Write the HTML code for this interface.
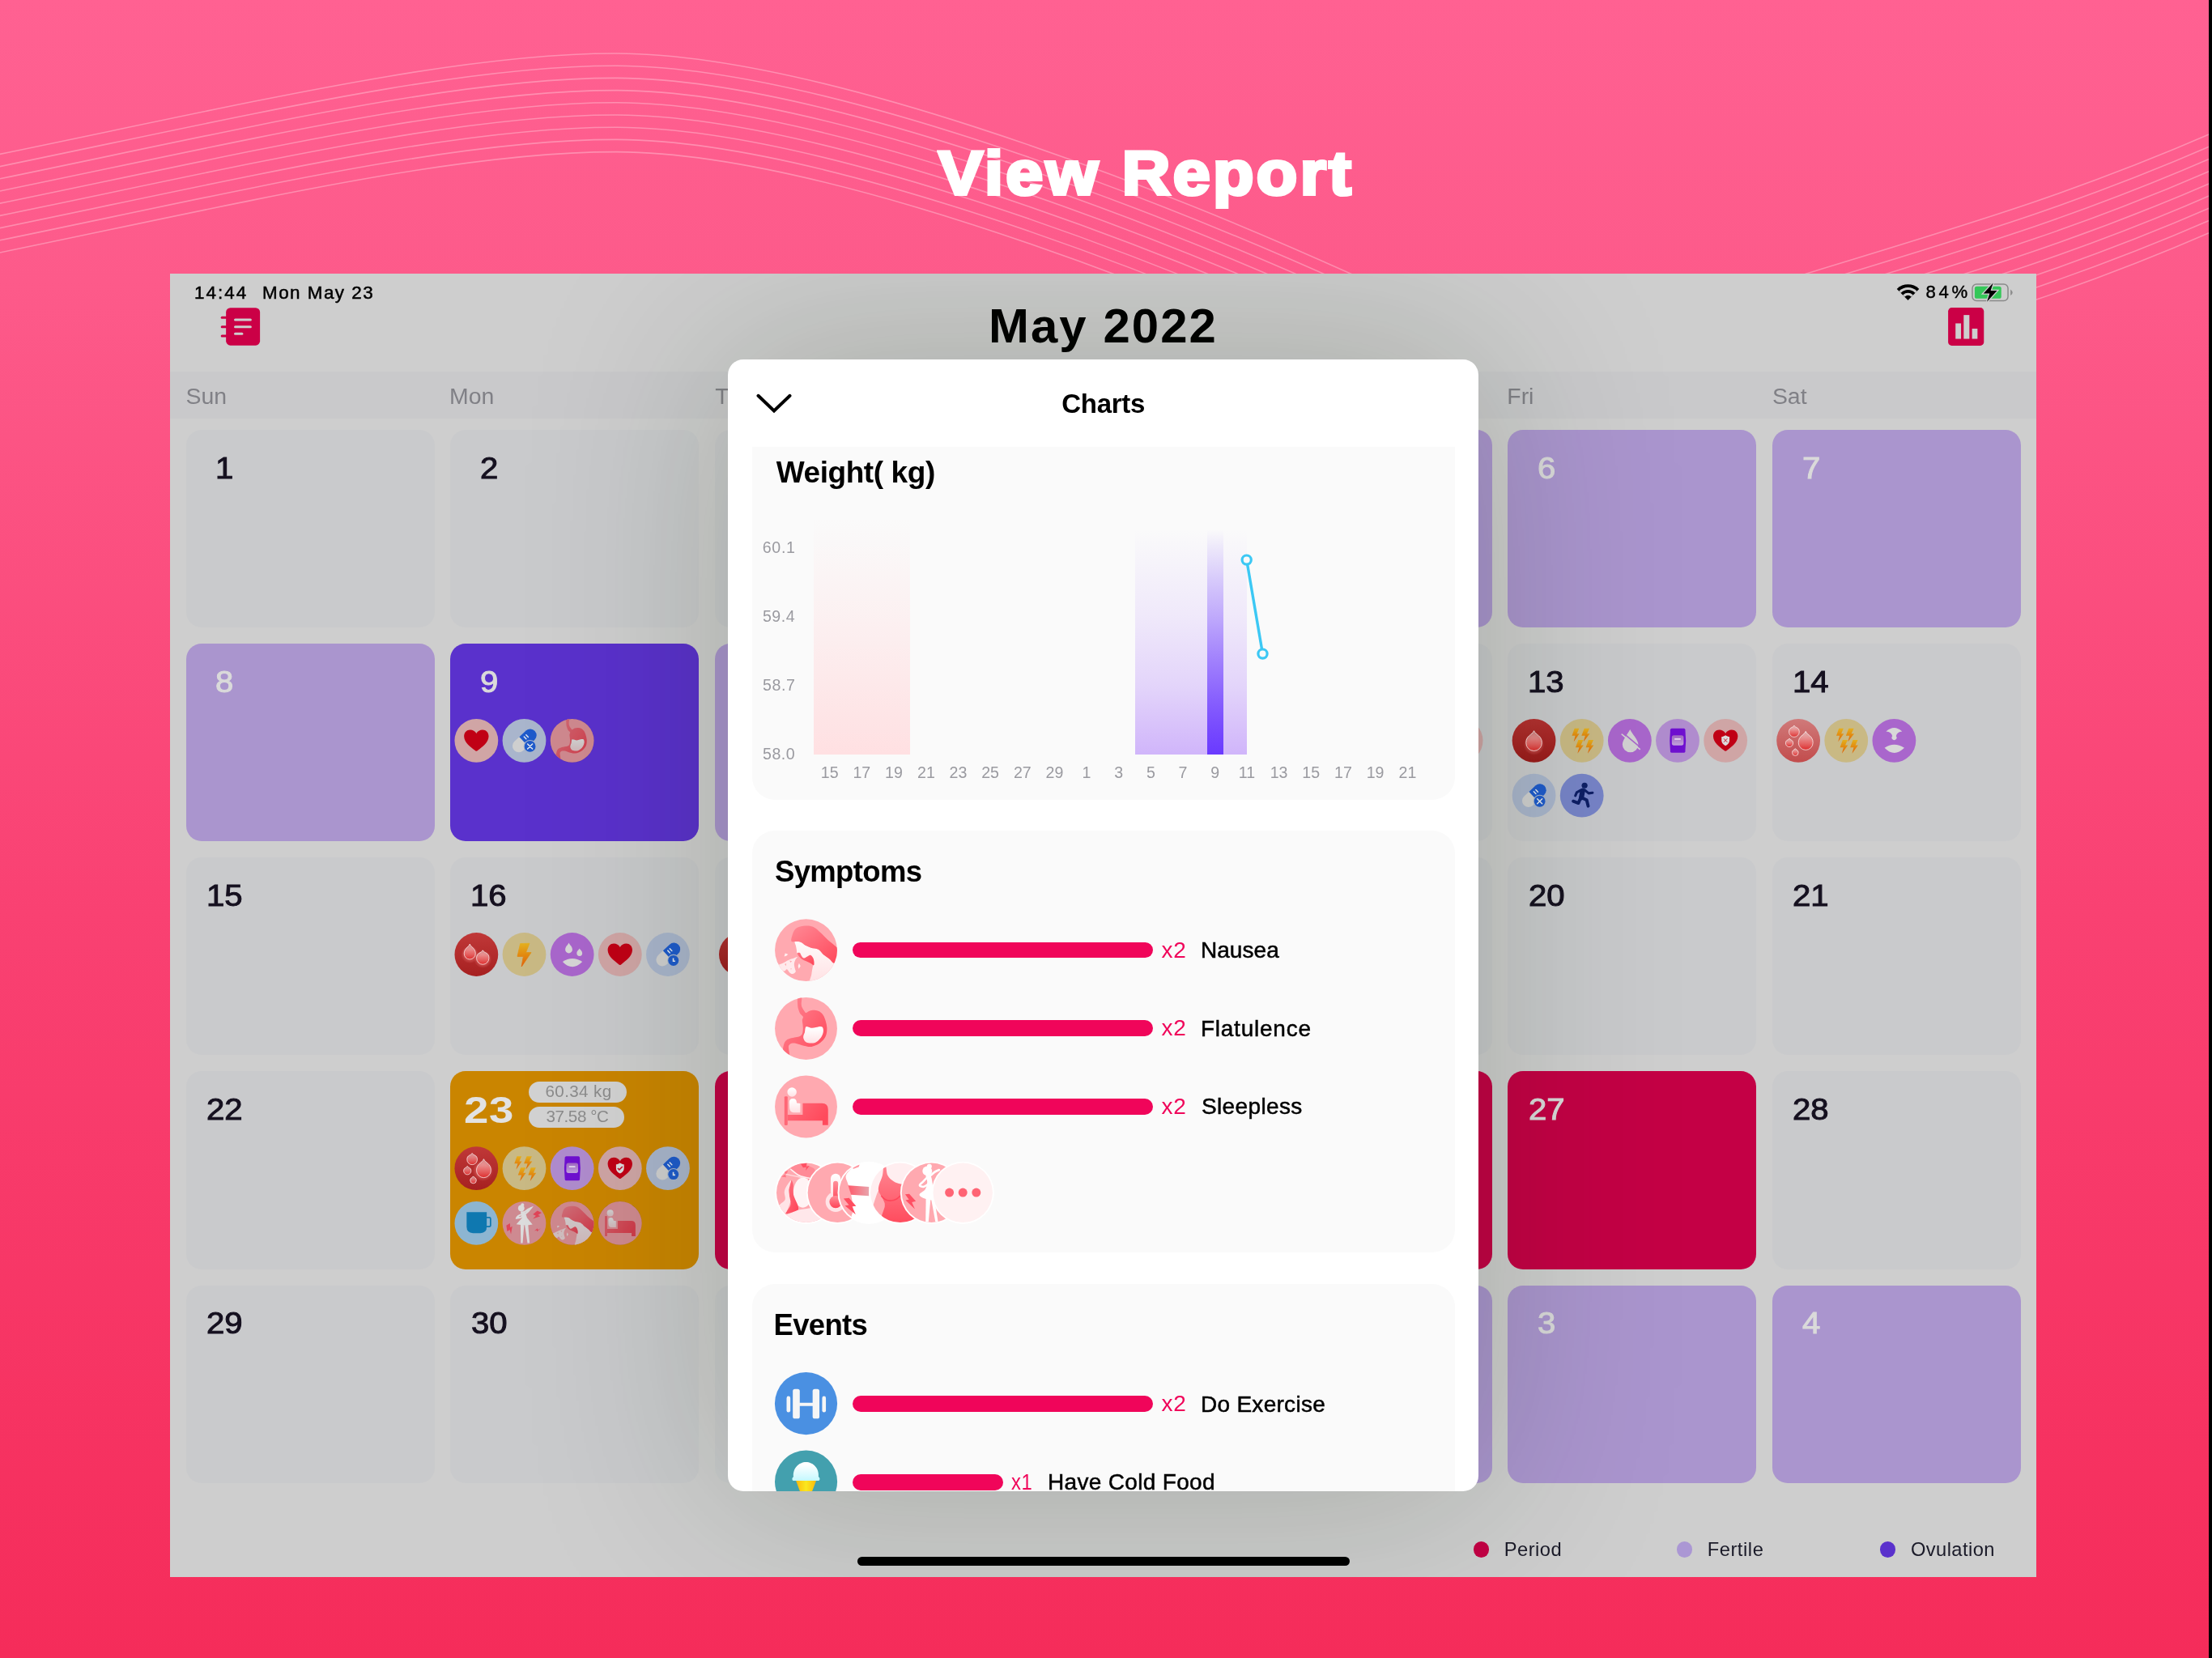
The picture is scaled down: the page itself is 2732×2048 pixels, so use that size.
<!DOCTYPE html>
<html><head><meta charset="utf-8"><title>View Report</title>
<style>
html,body{margin:0;padding:0;}
body{width:2732px;height:2048px;position:relative;overflow:hidden;
 font-family:"Liberation Sans",sans-serif;
 background:linear-gradient(180deg,#ff6192 0%,#fd5a8a 17%,#f94172 55%,#f52c5a 100%);}
.t{position:absolute;white-space:nowrap;line-height:1;}
.b{position:absolute;}
svg{position:absolute;overflow:visible;}
#app{position:absolute;left:210px;top:338px;width:2305px;height:1610px;background:#cecece;overflow:hidden;will-change:transform;}
body>.t{will-change:transform;}
#modal{position:absolute;left:689.2px;top:105.9px;width:926.6px;height:1398.4px;background:#fff;border-radius:19px;
 box-shadow:0 0 240px 10px rgba(14,34,8,0.205);overflow:hidden;}
.card{position:absolute;left:29.5px;width:868px;background:#fafafa;border-radius:28px;}
</style></head><body>

<svg style="left:0;top:0" width="2732" height="2048">
<path d="M-20,194.5 C300,129.0 560,66.0 760,66.0 C1000,66.0 1400,217.0 1668,338.0 C1850,420.0 2050,420.0 2231,338.0 C2420,280.0 2560,240.0 2740,161.0" fill="none" stroke="#fff" stroke-opacity="0.3" stroke-width="1.6"/>
<path d="M-20,209.7 C300,144.2 560,81.2 760,81.2 C1000,81.2 1400,232.2 1668,353.2 C1850,435.2 2050,435.2 2231,353.2 C2420,295.2 2560,255.2 2740,176.2" fill="none" stroke="#fff" stroke-opacity="0.3" stroke-width="1.6"/>
<path d="M-20,224.9 C300,159.4 560,96.4 760,96.4 C1000,96.4 1400,247.4 1668,368.4 C1850,450.4 2050,450.4 2231,368.4 C2420,310.4 2560,270.4 2740,191.4" fill="none" stroke="#fff" stroke-opacity="0.3" stroke-width="1.6"/>
<path d="M-20,240.1 C300,174.6 560,111.6 760,111.6 C1000,111.6 1400,262.6 1668,383.6 C1850,465.6 2050,465.6 2231,383.6 C2420,325.6 2560,285.6 2740,206.6" fill="none" stroke="#fff" stroke-opacity="0.3" stroke-width="1.6"/>
<path d="M-20,255.3 C300,189.8 560,126.8 760,126.8 C1000,126.8 1400,277.8 1668,398.8 C1850,480.8 2050,480.8 2231,398.8 C2420,340.8 2560,300.8 2740,221.8" fill="none" stroke="#fff" stroke-opacity="0.3" stroke-width="1.6"/>
<path d="M-20,270.5 C300,205.0 560,142.0 760,142.0 C1000,142.0 1400,293.0 1668,414.0 C1850,496.0 2050,496.0 2231,414.0 C2420,356.0 2560,316.0 2740,237.0" fill="none" stroke="#fff" stroke-opacity="0.3" stroke-width="1.6"/>
<path d="M-20,285.7 C300,220.2 560,157.2 760,157.2 C1000,157.2 1400,308.2 1668,429.2 C1850,511.2 2050,511.2 2231,429.2 C2420,371.2 2560,331.2 2740,252.2" fill="none" stroke="#fff" stroke-opacity="0.3" stroke-width="1.6"/>
<path d="M-20,300.9 C300,235.4 560,172.4 760,172.4 C1000,172.4 1400,323.4 1668,444.4 C1850,526.4 2050,526.4 2231,444.4 C2420,386.4 2560,346.4 2740,267.4" fill="none" stroke="#fff" stroke-opacity="0.3" stroke-width="1.6"/>
<path d="M-20,316.1 C300,250.6 560,187.6 760,187.6 C1000,187.6 1400,338.6 1668,459.6 C1850,541.6 2050,541.6 2231,459.6 C2420,401.6 2560,361.6 2740,282.6" fill="none" stroke="#fff" stroke-opacity="0.3" stroke-width="1.6"/>
</svg>
<div class="b" style="left:2728.00px;top:0.00px;width:4.00px;height:2048.00px;background:#000;"></div>
<div class="t" style="left:1158.64px;top:176.73px;font-size:75.10px;color:#fff;font-weight:700;letter-spacing:3.080px;-webkit-text-stroke:4px #fff;transform:scaleX(1.1);transform-origin:0 0;paint-order:stroke fill;">View Report</div>
<div id="app">
<div class="t" style="left:30.04px;top:12.54px;font-size:22.40px;color:#000;letter-spacing:2.052px;-webkit-text-stroke:0.5px #000;">14:44</div>
<div class="t" style="left:114.01px;top:12.54px;font-size:22.40px;color:#000;letter-spacing:1.496px;-webkit-text-stroke:0.5px #000;">Mon May 23</div>
<div class="t" style="left:2168.44px;top:12.21px;font-size:22.20px;color:#000;letter-spacing:3.712px;-webkit-text-stroke:0.4px #000;">84%</div>
<svg style="left:0;top:0" width="2305" height="120">
<rect x="69.14" y="42.19" width="41.97" height="46.49" rx="5.4" fill="#cb0046"/>
<rect x="62.69" y="52.82" width="10.2" height="3" rx="1.5" fill="#cb0046"/>
<rect x="62.69" y="64.21" width="10.2" height="3" rx="1.5" fill="#cb0046"/>
<rect x="62.69" y="75.43" width="10.2" height="3" rx="1.5" fill="#cb0046"/>
<rect x="79.03" y="55.53" width="21.82" height="3.0" rx="1.5" fill="#cecece"/>
<rect x="79.03" y="64.21" width="21.82" height="3.0" rx="1.5" fill="#cecece"/>
<rect x="79.03" y="72.72" width="11.33" height="3.0" rx="1.5" fill="#cecece"/>
<rect x="2196.11" y="42.12" width="44.16" height="46.76" rx="4.4" fill="#cb0046"/>
<rect x="2205.22" y="61.44" width="6.84" height="19.10" fill="#cecece"/>
<rect x="2215.31" y="51.13" width="7.05" height="29.40" fill="#cecece"/>
<rect x="2225.62" y="67.95" width="6.73" height="12.59" fill="#cecece"/>
<g transform="translate(2146.53,32.36)"><clipPath id="wcl"><polygon points="0,0.5 -16,-15.5 -16,-24 16,-24 16,-15.5"/></clipPath><g clip-path="url(#wcl)"><circle r="19.2" fill="#000"/><circle r="15.4" fill="#cecece"/><circle r="12.3" fill="#000"/><circle r="8.5" fill="#cecece"/><circle r="5.6" fill="#000"/></g></g>
<rect x="2226.00" y="13.00" width="44.04" height="20.50" rx="5.2" fill="none" stroke="#8a8a8a" stroke-width="1.5"/>
<rect x="2228.87" y="15.65" width="32.87" height="15.19" rx="2.6" fill="#35c759"/>
<path d="M2273.14,19.45 Q2278.34,23.25 2273.14,27.05Z" fill="#8c8c8c"/>
<polygon points="2251.66,11.53 2239.72,24.55 2247.32,24.55 2244.06,34.86 2256.54,21.08 2248.62,21.08" fill="#000" stroke="#cecece" stroke-width="2.6" paint-order="stroke"/>
</svg>
<div class="t" style="left:1011.04px;top:35.49px;font-size:59.90px;color:#000;font-weight:700;letter-spacing:2.069px;">May 2022</div>
<div class="b" style="left:0.00px;top:121.00px;width:2305.00px;height:58.00px;background:#c9c9cb;"></div>
<div class="t" style="left:19.61px;top:136.66px;font-size:28.40px;color:#808086;">Sun</div>
<div class="t" style="left:345.12px;top:136.66px;font-size:28.40px;color:#808086;">Mon</div>
<div class="t" style="left:673.36px;top:136.66px;font-size:28.40px;color:#808086;">Tue</div>
<div class="t" style="left:1000.43px;top:136.66px;font-size:28.40px;color:#808086;">Wed</div>
<div class="t" style="left:1326.46px;top:136.66px;font-size:28.40px;color:#808086;">Thu</div>
<div class="t" style="left:1651.32px;top:136.66px;font-size:28.40px;color:#808086;">Fri</div>
<div class="t" style="left:1978.91px;top:136.66px;font-size:28.40px;color:#808086;">Sat</div>
<div class="b" style="left:19.50px;top:192.90px;width:307.20px;height:244.20px;background:#c9cacc;border-radius:19px;"></div>
<div class="t" style="left:55.80px;top:222.75px;font-size:36.80px;color:#15101f;-webkit-text-stroke:1.0px #15101f;transform:scaleX(1.09);transform-origin:0 0;">1</div>
<div class="b" style="left:346.05px;top:192.90px;width:307.20px;height:244.20px;background:#c9cacc;border-radius:19px;"></div>
<div class="t" style="left:382.90px;top:222.75px;font-size:36.80px;color:#15101f;-webkit-text-stroke:1.0px #15101f;transform:scaleX(1.09);transform-origin:0 0;">2</div>
<div class="b" style="left:672.60px;top:192.90px;width:307.20px;height:244.20px;background:#c9cacc;border-radius:19px;"></div>
<div class="t" style="left:709.56px;top:222.75px;font-size:36.80px;color:#15101f;-webkit-text-stroke:1.0px #15101f;transform:scaleX(1.09);transform-origin:0 0;">3</div>
<div class="b" style="left:999.15px;top:192.90px;width:307.20px;height:244.20px;background:#c9cacc;border-radius:19px;"></div>
<div class="t" style="left:1036.12px;top:222.75px;font-size:36.80px;color:#15101f;-webkit-text-stroke:1.0px #15101f;transform:scaleX(1.09);transform-origin:0 0;">4</div>
<div class="b" style="left:1325.70px;top:192.90px;width:307.20px;height:244.20px;background:#aa95ce;border-radius:19px;"></div>
<div class="t" style="left:1362.58px;top:222.75px;font-size:36.80px;color:#dadada;-webkit-text-stroke:1.0px #dadada;transform:scaleX(1.09);transform-origin:0 0;">5</div>
<div class="b" style="left:1652.25px;top:192.90px;width:307.20px;height:244.20px;background:#aa95ce;border-radius:19px;"></div>
<div class="t" style="left:1688.96px;top:222.75px;font-size:36.80px;color:#dadada;-webkit-text-stroke:1.0px #dadada;transform:scaleX(1.09);transform-origin:0 0;">6</div>
<div class="b" style="left:1978.80px;top:192.90px;width:307.20px;height:244.20px;background:#aa95ce;border-radius:19px;"></div>
<div class="t" style="left:2015.63px;top:222.75px;font-size:36.80px;color:#dadada;-webkit-text-stroke:1.0px #dadada;transform:scaleX(1.09);transform-origin:0 0;">7</div>
<div class="b" style="left:19.50px;top:457.05px;width:307.20px;height:244.20px;background:#aa95ce;border-radius:19px;"></div>
<div class="t" style="left:56.35px;top:486.90px;font-size:36.80px;color:#dadada;-webkit-text-stroke:1.0px #dadada;transform:scaleX(1.09);transform-origin:0 0;">8</div>
<div class="b" style="left:346.05px;top:457.05px;width:307.20px;height:244.20px;background:#5a31cc;border-radius:19px;"></div>
<div class="t" style="left:382.91px;top:486.90px;font-size:36.80px;color:#dadada;-webkit-text-stroke:1.0px #dadada;transform:scaleX(1.09);transform-origin:0 0;">9</div>
<div class="b" style="left:672.60px;top:457.05px;width:307.20px;height:244.20px;background:#aa95ce;border-radius:19px;"></div>
<div class="t" style="left:697.55px;top:486.90px;font-size:36.80px;color:#dadada;-webkit-text-stroke:1.0px #dadada;transform:scaleX(1.09);transform-origin:0 0;">10</div>
<div class="b" style="left:999.15px;top:457.05px;width:307.20px;height:244.20px;background:#aa95ce;border-radius:19px;"></div>
<div class="t" style="left:1025.78px;top:486.90px;font-size:36.80px;color:#dadada;-webkit-text-stroke:1.0px #dadada;transform:scaleX(1.09);transform-origin:0 0;">11</div>
<div class="b" style="left:1325.70px;top:457.05px;width:307.20px;height:244.20px;background:#c9cacc;border-radius:19px;"></div>
<div class="t" style="left:1350.87px;top:486.90px;font-size:36.80px;color:#15101f;-webkit-text-stroke:1.0px #15101f;transform:scaleX(1.09);transform-origin:0 0;">12</div>
<div class="b" style="left:1652.25px;top:457.05px;width:307.20px;height:244.20px;background:#c9cacc;border-radius:19px;"></div>
<div class="t" style="left:1677.30px;top:486.90px;font-size:36.80px;color:#15101f;-webkit-text-stroke:1.0px #15101f;transform:scaleX(1.09);transform-origin:0 0;">13</div>
<div class="b" style="left:1978.80px;top:457.05px;width:307.20px;height:244.20px;background:#c9cacc;border-radius:19px;"></div>
<div class="t" style="left:2003.55px;top:486.90px;font-size:36.80px;color:#15101f;-webkit-text-stroke:1.0px #15101f;transform:scaleX(1.09);transform-origin:0 0;">14</div>
<div class="b" style="left:19.50px;top:721.20px;width:307.20px;height:244.20px;background:#c9cacc;border-radius:19px;"></div>
<div class="t" style="left:44.51px;top:751.05px;font-size:36.80px;color:#15101f;-webkit-text-stroke:1.0px #15101f;transform:scaleX(1.09);transform-origin:0 0;">15</div>
<div class="b" style="left:346.05px;top:721.20px;width:307.20px;height:244.20px;background:#c9cacc;border-radius:19px;"></div>
<div class="t" style="left:371.10px;top:751.05px;font-size:36.80px;color:#15101f;-webkit-text-stroke:1.0px #15101f;transform:scaleX(1.09);transform-origin:0 0;">16</div>
<div class="b" style="left:672.60px;top:721.20px;width:307.20px;height:244.20px;background:#c9cacc;border-radius:19px;"></div>
<div class="t" style="left:697.77px;top:751.05px;font-size:36.80px;color:#15101f;-webkit-text-stroke:1.0px #15101f;transform:scaleX(1.09);transform-origin:0 0;">17</div>
<div class="b" style="left:999.15px;top:721.20px;width:307.20px;height:244.20px;background:#c9cacc;border-radius:19px;"></div>
<div class="t" style="left:1024.19px;top:751.05px;font-size:36.80px;color:#15101f;-webkit-text-stroke:1.0px #15101f;transform:scaleX(1.09);transform-origin:0 0;">18</div>
<div class="b" style="left:1325.70px;top:721.20px;width:307.20px;height:244.20px;background:#c9cacc;border-radius:19px;"></div>
<div class="t" style="left:1350.81px;top:751.05px;font-size:36.80px;color:#15101f;-webkit-text-stroke:1.0px #15101f;transform:scaleX(1.09);transform-origin:0 0;">19</div>
<div class="b" style="left:1652.25px;top:721.20px;width:307.20px;height:244.20px;background:#c9cacc;border-radius:19px;"></div>
<div class="t" style="left:1677.72px;top:751.05px;font-size:36.80px;color:#15101f;-webkit-text-stroke:1.0px #15101f;transform:scaleX(1.09);transform-origin:0 0;">20</div>
<div class="b" style="left:1978.80px;top:721.20px;width:307.20px;height:244.20px;background:#c9cacc;border-radius:19px;"></div>
<div class="t" style="left:2004.46px;top:751.05px;font-size:36.80px;color:#15101f;-webkit-text-stroke:1.0px #15101f;transform:scaleX(1.09);transform-origin:0 0;">21</div>
<div class="b" style="left:19.50px;top:985.35px;width:307.20px;height:244.20px;background:#c9cacc;border-radius:19px;"></div>
<div class="t" style="left:45.19px;top:1015.20px;font-size:36.80px;color:#15101f;-webkit-text-stroke:1.0px #15101f;transform:scaleX(1.09);transform-origin:0 0;">22</div>
<div class="b" style="left:346.05px;top:985.35px;width:307.20px;height:244.20px;background:#ca8500;border-radius:19px;"></div>
<div class="t" style="left:363.01px;top:1010.10px;font-size:46.60px;color:#e2e2e2;font-weight:700;letter-spacing:0.525px;transform:scaleX(1.17);transform-origin:0 0;">23</div>
<div class="b" style="left:672.60px;top:985.35px;width:307.20px;height:244.20px;background:#c40045;border-radius:19px;"></div>
<div class="t" style="left:697.87px;top:1015.20px;font-size:36.80px;color:#dadada;-webkit-text-stroke:1.0px #dadada;transform:scaleX(1.09);transform-origin:0 0;">24</div>
<div class="b" style="left:999.15px;top:985.35px;width:307.20px;height:244.20px;background:#c40045;border-radius:19px;"></div>
<div class="t" style="left:1024.67px;top:1015.20px;font-size:36.80px;color:#dadada;-webkit-text-stroke:1.0px #dadada;transform:scaleX(1.09);transform-origin:0 0;">25</div>
<div class="b" style="left:1325.70px;top:985.35px;width:307.20px;height:244.20px;background:#c40045;border-radius:19px;"></div>
<div class="t" style="left:1351.26px;top:1015.20px;font-size:36.80px;color:#dadada;-webkit-text-stroke:1.0px #dadada;transform:scaleX(1.09);transform-origin:0 0;">26</div>
<div class="b" style="left:1652.25px;top:985.35px;width:307.20px;height:244.20px;background:#c40045;border-radius:19px;"></div>
<div class="t" style="left:1677.94px;top:1015.20px;font-size:36.80px;color:#dadada;-webkit-text-stroke:1.0px #dadada;transform:scaleX(1.09);transform-origin:0 0;">27</div>
<div class="b" style="left:1978.80px;top:985.35px;width:307.20px;height:244.20px;background:#c9cacc;border-radius:19px;"></div>
<div class="t" style="left:2004.35px;top:1015.20px;font-size:36.80px;color:#15101f;-webkit-text-stroke:1.0px #15101f;transform:scaleX(1.09);transform-origin:0 0;">28</div>
<div class="b" style="left:19.50px;top:1249.50px;width:307.20px;height:244.20px;background:#c9cacc;border-radius:19px;"></div>
<div class="t" style="left:45.13px;top:1279.35px;font-size:36.80px;color:#15101f;-webkit-text-stroke:1.0px #15101f;transform:scaleX(1.09);transform-origin:0 0;">29</div>
<div class="b" style="left:346.05px;top:1249.50px;width:307.20px;height:244.20px;background:#c9cacc;border-radius:19px;"></div>
<div class="t" style="left:371.76px;top:1279.35px;font-size:36.80px;color:#15101f;-webkit-text-stroke:1.0px #15101f;transform:scaleX(1.09);transform-origin:0 0;">30</div>
<div class="b" style="left:672.60px;top:1249.50px;width:307.20px;height:244.20px;background:#c9cacc;border-radius:19px;"></div>
<div class="t" style="left:698.51px;top:1279.35px;font-size:36.80px;color:#15101f;-webkit-text-stroke:1.0px #15101f;transform:scaleX(1.09);transform-origin:0 0;">31</div>
<div class="b" style="left:999.15px;top:1249.50px;width:307.20px;height:244.20px;background:#aa95ce;border-radius:19px;"></div>
<div class="t" style="left:1035.45px;top:1279.35px;font-size:36.80px;color:#dadada;-webkit-text-stroke:1.0px #dadada;transform:scaleX(1.09);transform-origin:0 0;">1</div>
<div class="b" style="left:1325.70px;top:1249.50px;width:307.20px;height:244.20px;background:#aa95ce;border-radius:19px;"></div>
<div class="t" style="left:1362.55px;top:1279.35px;font-size:36.80px;color:#dadada;-webkit-text-stroke:1.0px #dadada;transform:scaleX(1.09);transform-origin:0 0;">2</div>
<div class="b" style="left:1652.25px;top:1249.50px;width:307.20px;height:244.20px;background:#aa95ce;border-radius:19px;"></div>
<div class="t" style="left:1689.21px;top:1279.35px;font-size:36.80px;color:#dadada;-webkit-text-stroke:1.0px #dadada;transform:scaleX(1.09);transform-origin:0 0;">3</div>
<div class="b" style="left:1978.80px;top:1249.50px;width:307.20px;height:244.20px;background:#aa95ce;border-radius:19px;"></div>
<div class="t" style="left:2015.77px;top:1279.35px;font-size:36.80px;color:#dadada;-webkit-text-stroke:1.0px #dadada;transform:scaleX(1.09);transform-origin:0 0;">4</div>
<div class="b" style="left:442.60px;top:997.50px;width:121.40px;height:26.00px;background:#d2d2d2;border-radius:13px;"></div>
<div class="b" style="left:442.60px;top:1028.60px;width:118.80px;height:26.00px;background:#d2d2d2;border-radius:13px;"></div>
<div class="t" style="left:463.45px;top:1000.36px;font-size:20.60px;color:#8c8c8c;letter-spacing:0.392px;">60.34 kg</div>
<div class="t" style="left:464.42px;top:1031.36px;font-size:20.60px;color:#8c8c8c;letter-spacing:-0.403px;">37.58 °C</div>
<svg width="0" height="0" style="left:0;top:0"><defs>
<linearGradient id="gdrop" x1="0" y1="0" x2="0" y2="1"><stop offset="0" stop-color="#fff" stop-opacity="0.42"/><stop offset="0.5" stop-color="#f08080" stop-opacity="0.75"/><stop offset="1" stop-color="#dc2a2a"/></linearGradient>
<linearGradient id="gbolt" x1="0" y1="0" x2="0" y2="1"><stop offset="0" stop-color="#e4b01e"/><stop offset="0.5" stop-color="#e28a10"/><stop offset="1" stop-color="#e06008"/></linearGradient>
<linearGradient id="gred1" x1="0" y1="0" x2="0" y2="1"><stop offset="0" stop-color="#b43030"/><stop offset="1" stop-color="#9a1a1a"/></linearGradient>
<linearGradient id="gred2" x1="0" y1="0" x2="0" y2="1"><stop offset="0" stop-color="#c03838"/><stop offset="1" stop-color="#a62020"/></linearGradient>
<linearGradient id="gred3" x1="0" y1="0" x2="0" y2="1"><stop offset="0" stop-color="#d07a7a"/><stop offset="1" stop-color="#c24c4c"/></linearGradient>
<radialGradient id="gglow"><stop offset="0.55" stop-color="#ff9090" stop-opacity="0.38"/><stop offset="1" stop-color="#ff9090" stop-opacity="0"/></radialGradient>
<linearGradient id="gpad" x1="0" y1="0" x2="0" y2="1"><stop offset="0" stop-color="#a068c2"/><stop offset="1" stop-color="#c2a4dc"/></linearGradient>
<linearGradient id="gpk1" x1="0" y1="0" x2="1" y2="1"><stop offset="0" stop-color="#ff8a96"/><stop offset="1" stop-color="#ff4659"/></linearGradient>
<linearGradient id="gpk2" x1="0" y1="0" x2="1" y2="1"><stop offset="0" stop-color="#ff7583"/><stop offset="1" stop-color="#ff4357"/></linearGradient>
<linearGradient id="gskin" x1="0" y1="0" x2="0" y2="1"><stop offset="0" stop-color="#fffafa"/><stop offset="1" stop-color="#ffdfe2"/></linearGradient>
<linearGradient id="gwh" x1="0" y1="0" x2="0" y2="1"><stop offset="0.1" stop-color="#ffffff"/><stop offset="1" stop-color="#ffe1e4"/></linearGradient>
<linearGradient id="gbed" x1="0" y1="0" x2="1" y2="0.4"><stop offset="0" stop-color="#ff6b7a"/><stop offset="1" stop-color="#ff4a5c"/></linearGradient>
<linearGradient id="gcone" x1="0" y1="0" x2="1" y2="0"><stop offset="0" stop-color="#fdb80e"/><stop offset="0.5" stop-color="#fae81e"/><stop offset="1" stop-color="#fdb80e"/></linearGradient>
<linearGradient id="gice" x1="0" y1="0" x2="0" y2="1"><stop offset="0.15" stop-color="#ffffff"/><stop offset="1" stop-color="#c4f8ff"/></linearGradient>
<linearGradient id="gband" x1="0" y1="0" x2="1" y2="0"><stop offset="0" stop-color="#ff5a6b"/><stop offset="1" stop-color="#e8a4ac"/></linearGradient>
<linearGradient id="gtank" x1="0" y1="0" x2="0" y2="1"><stop offset="0" stop-color="#ff8792"/><stop offset="1" stop-color="#ff4558"/></linearGradient>
<linearGradient id="gthermo" x1="0" y1="0" x2="0" y2="1"><stop offset="0" stop-color="#ffffff"/><stop offset="0.8" stop-color="#ffe4e7"/></linearGradient>
<linearGradient id="gtherm" x1="0" y1="0" x2="0" y2="1"><stop offset="0" stop-color="#ff8f9a"/><stop offset="1" stop-color="#ff4357"/></linearGradient>
</defs></svg>

<svg style="left:0;top:0" width="2305" height="1610">
<g transform="translate(378.35,576.85)"><circle r="26.9" fill="#d0a5a5"/><path d="M0,12.9 Q-0.9,12.9 -2.2,11.7 C-6.5,8.3 -15.2,2.4 -15.2,-5.4 C-15.2,-10.2 -11.9,-13.4 -7.7,-13.4 C-4.4,-13.4 -1.5,-11.7 0,-8.9 C1.5,-11.7 4.4,-13.4 7.7,-13.4 C11.9,-13.4 15.2,-10.2 15.2,-5.4 C15.2,2.4 6.5,8.3 2.2,11.7 Q0.9,12.9 0,12.9Z" fill="#c00015"/></g>
<g transform="translate(437.50,576.85)"><circle r="26.9" fill="#a9b5cc"/><g transform="translate(0.3,0.0) rotate(-43)"><path d="M0,-7.8 L-9.70,-7.8 A7.8,7.8 0 0 0 -9.70,7.8 L0,7.8Z" fill="#cfcfcf"/><path d="M-1.5,-7.8 L9.70,-7.8 A7.8,7.8 0 0 1 9.70,7.8 L-1.5,7.8Z" fill="#1e5acb"/><rect x="2.2" y="-4.6" width="1.5" height="5.2" rx="0.7" fill="#dfe6f2"/><rect x="5.6" y="-4.6" width="1.5" height="5.2" rx="0.7" fill="#dfe6f2"/></g><circle cx="7.1" cy="7.1" r="8" fill="#a9b5cc"/><circle cx="7.1" cy="7.1" r="6.9" fill="#1e5acb"/><path d="M4.1,4.1 L10.1,10.1 M10.1,4.1 L4.1,10.1" stroke="#e4e8f0" stroke-width="1.5" stroke-linecap="round" fill="none"/></g>
<g transform="translate(496.65,576.85)"><g transform="scale(0.6996) translate(-45.7,-48.4)"><clipPath id="cps1"><circle cx="45.7" cy="48.4" r="38.45"/></clipPath><circle cx="45.7" cy="48.4" r="38.45" fill="#ffa9b0"/><g clip-path="url(#cps1)"><path d="M35.59,7.24 C36.46,5.43 39.81,5.43 40.53,7.24 C41.25,9.05 39.80,15.43 39.93,18.09 C40.06,20.76 40.58,21.59 41.31,23.22 C42.05,24.85 43.58,26.91 44.33,27.86 C45.08,28.82 44.88,29.17 45.84,28.95 C46.79,28.73 48.35,27.09 50.06,26.54 C51.77,25.99 54.08,25.51 56.09,25.63 C58.10,25.75 60.31,26.21 62.12,27.26 C63.93,28.32 65.64,29.98 66.95,31.97 C68.25,33.96 69.20,36.69 69.96,39.20 C70.73,41.72 71.37,44.43 71.53,47.04 C71.69,49.66 71.49,52.57 70.93,54.89 C70.37,57.20 69.47,59.06 68.15,60.92 C66.84,62.78 64.89,64.64 63.03,66.04 C61.17,67.45 59.01,68.55 57.00,69.36 C54.99,70.17 53.13,70.83 50.97,70.93 C48.80,71.03 46.19,70.43 44.03,69.96 C41.87,69.50 39.86,68.71 38.00,68.15 C36.14,67.60 34.53,66.90 32.87,66.65 C31.21,66.40 29.35,66.32 28.05,66.65 C26.74,66.97 25.68,67.72 25.03,68.58 C24.38,69.43 24.10,69.13 24.13,71.77 C24.16,74.42 26.32,83.33 25.21,84.44 C24.11,85.54 18.65,81.12 17.49,78.41 C16.33,75.69 17.67,70.72 18.28,68.15 C18.88,65.59 19.83,64.28 21.11,63.03 C22.39,61.77 23.97,61.27 25.93,60.62 C27.90,59.96 30.86,59.56 32.87,59.11 C34.88,58.66 36.64,58.60 38.00,57.90 C39.35,57.20 40.35,56.39 41.01,54.89 C41.68,53.38 41.88,50.81 41.98,48.85 C42.08,46.89 41.78,44.93 41.62,43.12 C41.46,41.31 40.94,39.56 41.01,38.00 C41.08,36.44 42.44,35.08 42.04,33.78 C41.64,32.47 39.58,31.77 38.60,30.16 C37.63,28.55 36.74,26.14 36.19,24.13 C35.64,22.11 35.38,20.91 35.28,18.09 C35.18,15.28 34.71,9.05 35.59,7.24Z" fill="url(#gpk1)"/><path d="M45.72,46.08 C46.44,45.68 47.75,46.28 48.97,46.56 C50.20,46.84 51.59,47.71 53.08,47.77 C54.56,47.83 56.24,47.25 57.90,46.92 C59.56,46.60 61.64,45.84 63.03,45.84 C64.41,45.84 65.55,45.92 66.22,46.92 C66.90,47.93 67.25,50.04 67.07,51.87 C66.89,53.70 66.16,56.04 65.14,57.90 C64.11,59.76 62.42,61.67 60.92,63.03 C59.41,64.38 57.90,65.49 56.09,66.04 C54.28,66.60 51.92,66.60 50.06,66.34 C48.20,66.09 46.19,65.54 44.93,64.54 C43.68,63.53 42.89,61.62 42.52,60.31 C42.15,59.01 42.43,57.90 42.70,56.69 C42.97,55.49 43.83,54.36 44.15,53.08 C44.47,51.79 44.37,50.14 44.63,48.97 C44.89,47.81 44.99,46.48 45.72,46.08Z" fill="url(#gwh)"/></g></g><circle r="27.099999999999998" fill="#000" fill-opacity="0.19"/></g>
<g transform="translate(1684.55,576.85)"><circle r="26.9" fill="url(#gred1)"/><circle cx="0" cy="5" r="13" fill="url(#gglow)"/><path d="M0.00,-12.20 C2.35,-6.74 9.80,-6.51 9.80,2.80 A9.80,9.80 0 0 1 -9.80,2.80 C-9.80,-6.51 -2.35,-6.74 0.00,-12.20Z" fill="url(#gdrop)" stroke="rgba(255,255,255,0.75)" stroke-width="1.0"/></g>
<g transform="translate(1743.70,576.85)"><circle r="26.9" fill="#c9b984"/><polygon points="-9.07,-15.00 -3.37,-15.00 -6.13,-8.64 -3.00,-8.64 -9.99,1.40 -8.15,-5.98 -12.20,-5.98" fill="url(#gbolt)"/><polygon points="3.07,-15.00 9.39,-15.00 6.33,-8.64 9.80,-8.64 2.05,1.40 4.09,-5.98 -0.40,-5.98" fill="url(#gbolt)"/><polygon points="-4.37,-0.90 1.71,-0.90 -1.23,5.61 2.10,5.61 -5.35,15.90 -3.39,8.34 -7.70,8.34" fill="url(#gbolt)"/><polygon points="8.23,-0.90 14.31,-0.90 11.37,5.61 14.70,5.61 7.25,15.90 9.21,8.34 4.90,8.34" fill="url(#gbolt)"/></g>
<g transform="translate(1802.85,576.85)"><circle r="26.9" fill="#a966cc"/><path d="M0.4,-13.8 C3,-8 10.6,-1 10.6,5 A9.8,9.3 0 0 1 -9,5 C-9,-1 -2.5,-8 0.4,-13.8Z" fill="#d2d2d2"/><path d="M-8.2,-9.4 L13.6,8.8" stroke="#a966cc" stroke-width="1.6" fill="none"/><path d="M-9.6,-7.8 L12.4,10.6" stroke="#d2d2d2" stroke-width="1.7" stroke-linecap="round" fill="none"/></g>
<g transform="translate(1862.00,576.85)"><circle r="26.9" fill="#b08cce"/><path d="M-7.3,-15 L7.7,-15 Q9.2,-15 9.4,-13.5 Q10.9,0 9.4,13.5 Q9.2,15 7.7,15 L-7.3,15 Q-8.8,15 -9,13.5 Q-10.5,0 -9,-13.5 Q-8.8,-15 -7.3,-15Z" fill="#6f10d0"/><rect x="-7.2" y="-6.6" width="14.6" height="12.4" rx="2.6" fill="url(#gpad)"/><rect x="-3.9" y="-2.9" width="7.8" height="1.7" rx="0.5" fill="#e6daf0"/></g>
<g transform="translate(1921.15,576.85)"><circle r="26.9" fill="#cfa5a5"/><path d="M0,12.9 Q-0.9,12.9 -2.2,11.7 C-6.5,8.3 -15.2,2.4 -15.2,-5.4 C-15.2,-10.2 -11.9,-13.4 -7.7,-13.4 C-4.4,-13.4 -1.5,-11.7 0,-8.9 C1.5,-11.7 4.4,-13.4 7.7,-13.4 C11.9,-13.4 15.2,-10.2 15.2,-5.4 C15.2,2.4 6.5,8.3 2.2,11.7 Q0.9,12.9 0,12.9Z" fill="#c00015"/><path d="M0,-6.6 C1.8,-5.4 3.4,-4.9 4.9,-4.8 L4.9,0 C4.9,3 2.8,5 0,6.3 C-2.8,5 -4.9,3 -4.9,0 L-4.9,-4.8 C-3.4,-4.9 -1.8,-5.4 0,-6.6Z" fill="#dcdcdc"/><path d="M-2.2,-2.6 L2.2,2 M2.2,-2.6 L-2.2,2" stroke="#c8102a" stroke-width="0.9" fill="none"/></g>
<g transform="translate(1684.55,644.65)"><circle r="26.9" fill="#a9b5cc"/><g transform="translate(0.3,0.0) rotate(-43)"><path d="M0,-7.8 L-9.70,-7.8 A7.8,7.8 0 0 0 -9.70,7.8 L0,7.8Z" fill="#cfcfcf"/><path d="M-1.5,-7.8 L9.70,-7.8 A7.8,7.8 0 0 1 9.70,7.8 L-1.5,7.8Z" fill="#1e5acb"/><rect x="2.2" y="-4.6" width="1.5" height="5.2" rx="0.7" fill="#dfe6f2"/><rect x="5.6" y="-4.6" width="1.5" height="5.2" rx="0.7" fill="#dfe6f2"/></g><circle cx="7.1" cy="7.1" r="8" fill="#a9b5cc"/><circle cx="7.1" cy="7.1" r="6.9" fill="#1e5acb"/><path d="M4.1,4.1 L10.1,10.1 M10.1,4.1 L4.1,10.1" stroke="#e4e8f0" stroke-width="1.5" stroke-linecap="round" fill="none"/></g>
<g transform="translate(1743.70,644.65)"><circle r="26.9" fill="#7784c8"/><circle cx="3.4" cy="-12.4" r="3.6" fill="#0e1e66"/><path d="M1,-6 L-0.6,2.6" stroke="#0e1e66" stroke-width="6.2" stroke-linecap="round" fill="none"/><path d="M-1.5,-6.6 L-6.3,-3.8 L-8,0.2" stroke="#0e1e66" stroke-width="3.1" stroke-linecap="round" stroke-linejoin="round" fill="none"/><path d="M3.6,-6.8 L8.4,-2.8 L13.2,-3.4" stroke="#0e1e66" stroke-width="3.1" stroke-linecap="round" stroke-linejoin="round" fill="none"/><path d="M0.8,3 L6,5.6 L7.8,13" stroke="#0e1e66" stroke-width="3.9" stroke-linecap="round" stroke-linejoin="round" fill="none"/><path d="M-1.6,3 L-4.2,9.4 L-10.6,7" stroke="#0e1e66" stroke-width="3.9" stroke-linecap="round" stroke-linejoin="round" fill="none"/></g>
<g transform="translate(2011.10,576.85)"><circle r="26.9" fill="url(#gred3)"/><path d="M-5.20,-18.70 C-3.68,-15.58 1.15,-16.88 1.15,-10.85 A6.35,6.35 0 0 1 -11.55,-10.85 C-11.55,-16.88 -6.72,-15.58 -5.20,-18.70Z" fill="url(#gdrop)" stroke="rgba(255,255,255,0.75)" stroke-width="0.9"/><path d="M9.10,-11.50 C11.25,-6.44 18.05,-5.95 18.05,2.55 A8.95,8.95 0 0 1 0.15,2.55 C0.15,-5.95 6.95,-6.44 9.10,-11.50Z" fill="url(#gdrop)" stroke="rgba(255,255,255,0.75)" stroke-width="0.9"/><path d="M-11.10,-2.75 C-10.00,-0.44 -6.50,-1.22 -6.50,3.15 A4.60,4.60 0 0 1 -15.70,3.15 C-15.70,-1.22 -12.20,-0.44 -11.10,-2.75Z" fill="url(#gdrop)" stroke="rgba(255,255,255,0.75)" stroke-width="0.9"/><path d="M-3.80,9.75 C-2.89,11.71 0.00,11.24 0.00,14.85 A3.80,3.80 0 0 1 -7.60,14.85 C-7.60,11.24 -4.71,11.71 -3.80,9.75Z" fill="url(#gdrop)" stroke="rgba(255,255,255,0.75)" stroke-width="0.9"/></g>
<g transform="translate(2070.25,576.85)"><circle r="26.9" fill="#c9b984"/><polygon points="-9.07,-15.00 -3.37,-15.00 -6.13,-8.64 -3.00,-8.64 -9.99,1.40 -8.15,-5.98 -12.20,-5.98" fill="url(#gbolt)"/><polygon points="3.07,-15.00 9.39,-15.00 6.33,-8.64 9.80,-8.64 2.05,1.40 4.09,-5.98 -0.40,-5.98" fill="url(#gbolt)"/><polygon points="-4.37,-0.90 1.71,-0.90 -1.23,5.61 2.10,5.61 -5.35,15.90 -3.39,8.34 -7.70,8.34" fill="url(#gbolt)"/><polygon points="8.23,-0.90 14.31,-0.90 11.37,5.61 14.70,5.61 7.25,15.90 9.21,8.34 4.90,8.34" fill="url(#gbolt)"/></g>
<g transform="translate(2129.40,576.85)"><circle r="26.9" fill="#a966cc"/><path d="M-10,-11.4 Q0,-20.4 9.9,-11.4 Q3.4,-11 2.4,-5.6 A3,3 0 1 1 -2.2,-5.6 Q-3.2,-11 -10,-11.4Z" fill="#d8d8d8"/><path d="M-11.8,9 Q0,1 12.6,9 Q6,15.2 0.4,15.2 Q-6,15.2 -11.8,9Z" fill="#d8d8d8"/></g>
<g transform="translate(378.35,841.00)"><circle r="26.9" fill="url(#gred2)"/><circle cx="-8" cy="0" r="11" fill="url(#gglow)"/><circle cx="8" cy="6" r="11" fill="url(#gglow)"/><path d="M-8.10,-12.95 C-6.42,-8.79 -1.10,-7.70 -1.10,-1.05 A7.00,7.00 0 0 1 -15.10,-1.05 C-15.10,-7.70 -9.78,-8.79 -8.10,-12.95Z" fill="url(#gdrop)" stroke="rgba(255,255,255,0.75)" stroke-width="0.9"/><path d="M7.90,-5.25 C9.75,-1.40 15.60,-2.76 15.60,4.55 A7.70,7.70 0 0 1 0.20,4.55 C0.20,-2.76 6.05,-1.40 7.90,-5.25Z" fill="url(#gdrop)" stroke="rgba(255,255,255,0.75)" stroke-width="0.9"/></g>
<g transform="translate(437.50,841.00)"><circle r="26.9" fill="#c9b984"/><polygon points="-4.90,-13.40 6.50,-13.80 2.00,-2.40 8.50,-2.40 -3.30,15.00 -1.20,2.40 -8.50,2.40" fill="url(#gbolt)" stroke="url(#gbolt)" stroke-width="0.8" stroke-linejoin="round"/></g>
<g transform="translate(496.65,841.00)"><circle r="26.9" fill="#a966cc"/><path d="M-4.10,-14.60 C-3.04,-11.74 0.30,-10.18 0.30,-6.00 A4.40,4.40 0 0 1 -8.50,-6.00 C-8.50,-10.18 -5.16,-11.74 -4.10,-14.60Z" fill="#d6d6d6"/><path d="M9.10,-7.40 C9.92,-5.33 12.50,-4.63 12.50,-1.40 A3.40,3.40 0 0 1 5.70,-1.40 C5.70,-4.63 8.28,-5.33 9.10,-7.40Z" fill="#d6d6d6"/><path d="M-11.8,9 Q0,1 12.6,9 Q6,15.2 0.4,15.2 Q-6,15.2 -11.8,9Z" fill="#d6d6d6"/></g>
<g transform="translate(555.80,841.00)"><circle r="26.9" fill="#d0a5a5"/><path d="M0,12.9 Q-0.9,12.9 -2.2,11.7 C-6.5,8.3 -15.2,2.4 -15.2,-5.4 C-15.2,-10.2 -11.9,-13.4 -7.7,-13.4 C-4.4,-13.4 -1.5,-11.7 0,-8.9 C1.5,-11.7 4.4,-13.4 7.7,-13.4 C11.9,-13.4 15.2,-10.2 15.2,-5.4 C15.2,2.4 6.5,8.3 2.2,11.7 Q0.9,12.9 0,12.9Z" fill="#c00015"/></g>
<g transform="translate(614.95,841.00)"><circle r="26.9" fill="#a9b5cc"/><g transform="translate(0.3,0.0) rotate(-43)"><path d="M0,-7.8 L-9.70,-7.8 A7.8,7.8 0 0 0 -9.70,7.8 L0,7.8Z" fill="#cfcfcf"/><path d="M-1.5,-7.8 L9.70,-7.8 A7.8,7.8 0 0 1 9.70,7.8 L-1.5,7.8Z" fill="#1e5acb"/><rect x="2.2" y="-4.6" width="1.5" height="5.2" rx="0.7" fill="#dfe6f2"/><rect x="5.6" y="-4.6" width="1.5" height="5.2" rx="0.7" fill="#dfe6f2"/></g><circle cx="6.8" cy="7.4" r="7.6" fill="#a9b5cc"/><circle cx="6.8" cy="7.4" r="6.5" fill="#1e5acb"/><path d="M6.6,4.6 L6.6,8.2 L9,8.2" stroke="#e4e8f0" stroke-width="1.6" fill="none"/></g>
<g transform="translate(704.90,841.00)"><circle r="26.9" fill="url(#gred1)"/><circle cx="0" cy="5" r="13" fill="url(#gglow)"/><path d="M0.00,-12.20 C2.35,-6.74 9.80,-6.51 9.80,2.80 A9.80,9.80 0 0 1 -9.80,2.80 C-9.80,-6.51 -2.35,-6.74 0.00,-12.20Z" fill="url(#gdrop)" stroke="rgba(255,255,255,0.75)" stroke-width="1.0"/></g>
<g transform="translate(1594.60,576.85)"><circle r="26.9" fill="#d0a5a5"/><path d="M0,12.9 Q-0.9,12.9 -2.2,11.7 C-6.5,8.3 -15.2,2.4 -15.2,-5.4 C-15.2,-10.2 -11.9,-13.4 -7.7,-13.4 C-4.4,-13.4 -1.5,-11.7 0,-8.9 C1.5,-11.7 4.4,-13.4 7.7,-13.4 C11.9,-13.4 15.2,-10.2 15.2,-5.4 C15.2,2.4 6.5,8.3 2.2,11.7 Q0.9,12.9 0,12.9Z" fill="#c00015"/></g>
<g transform="translate(378.35,1105.15)"><circle r="26.9" fill="url(#gred2)"/><circle cx="8" cy="3" r="13" fill="url(#gglow)"/><path d="M-5.20,-18.70 C-3.68,-15.58 1.15,-16.88 1.15,-10.85 A6.35,6.35 0 0 1 -11.55,-10.85 C-11.55,-16.88 -6.72,-15.58 -5.20,-18.70Z" fill="url(#gdrop)" stroke="rgba(255,255,255,0.75)" stroke-width="0.9"/><path d="M9.10,-11.50 C11.25,-6.44 18.05,-5.95 18.05,2.55 A8.95,8.95 0 0 1 0.15,2.55 C0.15,-5.95 6.95,-6.44 9.10,-11.50Z" fill="url(#gdrop)" stroke="rgba(255,255,255,0.75)" stroke-width="0.9"/><path d="M-11.10,-2.75 C-10.00,-0.44 -6.50,-1.22 -6.50,3.15 A4.60,4.60 0 0 1 -15.70,3.15 C-15.70,-1.22 -12.20,-0.44 -11.10,-2.75Z" fill="url(#gdrop)" stroke="rgba(255,255,255,0.75)" stroke-width="0.9"/><path d="M-3.80,9.75 C-2.89,11.71 0.00,11.24 0.00,14.85 A3.80,3.80 0 0 1 -7.60,14.85 C-7.60,11.24 -4.71,11.71 -3.80,9.75Z" fill="url(#gdrop)" stroke="rgba(255,255,255,0.75)" stroke-width="0.9"/></g>
<g transform="translate(437.50,1105.15)"><circle r="26.9" fill="#c9b984"/><polygon points="-9.07,-15.00 -3.37,-15.00 -6.13,-8.64 -3.00,-8.64 -9.99,1.40 -8.15,-5.98 -12.20,-5.98" fill="url(#gbolt)"/><polygon points="3.07,-15.00 9.39,-15.00 6.33,-8.64 9.80,-8.64 2.05,1.40 4.09,-5.98 -0.40,-5.98" fill="url(#gbolt)"/><polygon points="-4.37,-0.90 1.71,-0.90 -1.23,5.61 2.10,5.61 -5.35,15.90 -3.39,8.34 -7.70,8.34" fill="url(#gbolt)"/><polygon points="8.23,-0.90 14.31,-0.90 11.37,5.61 14.70,5.61 7.25,15.90 9.21,8.34 4.90,8.34" fill="url(#gbolt)"/></g>
<g transform="translate(496.65,1105.15)"><circle r="26.9" fill="#b08cce"/><path d="M-7.3,-15 L7.7,-15 Q9.2,-15 9.4,-13.5 Q10.9,0 9.4,13.5 Q9.2,15 7.7,15 L-7.3,15 Q-8.8,15 -9,13.5 Q-10.5,0 -9,-13.5 Q-8.8,-15 -7.3,-15Z" fill="#6f10d0"/><rect x="-7.2" y="-6.6" width="14.6" height="12.4" rx="2.6" fill="url(#gpad)"/><rect x="-3.9" y="-2.9" width="7.8" height="1.7" rx="0.5" fill="#e6daf0"/></g>
<g transform="translate(555.80,1105.15)"><circle r="26.9" fill="#cfa5a5"/><path d="M0,12.9 Q-0.9,12.9 -2.2,11.7 C-6.5,8.3 -15.2,2.4 -15.2,-5.4 C-15.2,-10.2 -11.9,-13.4 -7.7,-13.4 C-4.4,-13.4 -1.5,-11.7 0,-8.9 C1.5,-11.7 4.4,-13.4 7.7,-13.4 C11.9,-13.4 15.2,-10.2 15.2,-5.4 C15.2,2.4 6.5,8.3 2.2,11.7 Q0.9,12.9 0,12.9Z" fill="#c00015"/><path d="M0,-6.6 C1.8,-5.4 3.4,-4.9 4.9,-4.8 L4.9,0 C4.9,3 2.8,5 0,6.3 C-2.8,5 -4.9,3 -4.9,0 L-4.9,-4.8 C-3.4,-4.9 -1.8,-5.4 0,-6.6Z" fill="#dcdcdc"/><path d="M-2.9,-0.2 L-0.9,1.7 L3,-2.2" stroke="#c8102a" stroke-width="1.5" fill="none"/></g>
<g transform="translate(614.95,1105.15)"><circle r="26.9" fill="#a9b5cc"/><g transform="translate(0.3,0.0) rotate(-43)"><path d="M0,-7.8 L-9.70,-7.8 A7.8,7.8 0 0 0 -9.70,7.8 L0,7.8Z" fill="#cfcfcf"/><path d="M-1.5,-7.8 L9.70,-7.8 A7.8,7.8 0 0 1 9.70,7.8 L-1.5,7.8Z" fill="#1e5acb"/><rect x="2.2" y="-4.6" width="1.5" height="5.2" rx="0.7" fill="#dfe6f2"/><rect x="5.6" y="-4.6" width="1.5" height="5.2" rx="0.7" fill="#dfe6f2"/></g><circle cx="6.8" cy="7.4" r="7.6" fill="#a9b5cc"/><circle cx="6.8" cy="7.4" r="6.5" fill="#1e5acb"/><path d="M6.6,4.6 L6.6,8.2 L9,8.2" stroke="#e4e8f0" stroke-width="1.6" fill="none"/></g>
<g transform="translate(378.35,1172.95)"><circle r="26.9" fill="#8db5d1"/><path d="M12.4,-7 L16,-7 Q17.5,-7 17.5,-5.5 L17.5,2.6 Q17.5,4.2 16,4.2 L12.4,4.2" stroke="#0f78b0" stroke-width="1.7" fill="none"/><path d="M-12,-13.6 L12.8,-13.6 L12.8,4.4 Q12.8,12.2 5,12.2 L-4.2,12.2 Q-12,12.2 -12,4.4Z" fill="#0f78b0"/></g>
<g transform="translate(437.50,1172.95)"><circle r="26.9" fill="#ce8a91"/><circle cx="-3.7" cy="-18.6" r="3.9" fill="#dcdcdc"/><circle cx="-2.2" cy="-22.6" r="2" fill="#dcdcdc"/><path d="M-4.6,-14.6 L0.2,-14.8 Q2.8,-10 3.4,-6.6 L10.2,1.6 Q1,3.6 -9.8,1.4 L-2.6,-6.8 Q-4.2,-10 -4.6,-14.6Z" fill="#dcdcdc"/><path d="M-1,-13 Q4,-17.5 8.6,-19 Q5,-14 1,-11.4" stroke="#dcdcdc" stroke-width="2.2" stroke-linecap="round" fill="none"/><path d="M-2.6,-11 Q-8.6,-9.4 -9.4,-6.4 Q-5,-6.4 -1.4,-8.4" stroke="#dcdcdc" stroke-width="2.2" stroke-linecap="round" fill="none"/><path d="M-4.6,1.8 L-0.2,2.2 L-2,24.6 L-4.2,24.6Z" fill="#dcdcdc"/><path d="M0.6,2.2 L4.8,1.8 L6.6,24.4 L4,24.6Z" fill="#dcdcdc"/><polygon transform="rotate(25 15 -10)" points="13.80,-15.40 19.62,-15.40 16.80,-10.98 20.00,-10.98 12.86,-4.00 14.74,-9.13 10.60,-9.13" fill="#e04558"/><polygon transform="rotate(-32 -18 7)" points="-19.28,1.20 -13.94,1.20 -16.52,5.93 -13.60,5.93 -20.14,13.40 -18.42,7.91 -22.20,7.91" fill="#e04558"/><path d="M12.4,9.6 L16.4,6.4 L16.8,8.2 L20.4,6.2 L15.6,10.4 L15.4,8.6Z" fill="#e04558"/></g>
<g transform="translate(496.65,1172.95)"><g transform="scale(0.6996) translate(-45.7,-48.55)"><clipPath id="cps2"><circle cx="45.7" cy="48.55" r="38.45"/></clipPath><circle cx="45.7" cy="48.55" r="38.45" fill="#ffa9b0"/><g clip-path="url(#cps2)"><path d="M31.97,38.00 C32.97,37.19 37.04,37.85 39.20,38.60 C41.37,39.35 42.82,41.37 44.93,42.52 C47.04,43.68 49.21,44.68 51.87,45.54 C54.53,46.39 58.40,46.29 60.92,47.65 C63.43,49.00 64.79,51.87 66.95,53.68 C69.11,55.49 71.52,56.80 73.88,58.50 C76.25,60.21 79.16,62.12 81.12,63.93 C83.08,65.74 86.10,64.94 85.65,69.36 C85.19,73.78 84.04,86.95 78.41,90.47 C72.78,93.99 56.19,92.48 51.87,90.47 C47.55,88.46 52.07,82.23 52.47,78.41 C52.87,74.59 53.83,70.37 54.28,67.55 C54.73,64.74 55.59,63.48 55.19,61.52 C54.78,59.56 53.13,56.64 51.87,55.79 C50.61,54.94 49.11,55.92 47.65,56.39 C46.19,56.87 44.43,58.68 43.12,58.62 C41.82,58.57 40.71,57.12 39.81,56.09 C38.90,55.07 38.55,53.10 37.70,52.47 C36.84,51.85 35.28,53.06 34.68,52.35 C34.08,51.65 34.33,49.74 34.08,48.25 C33.83,46.76 33.52,45.13 33.17,43.43 C32.82,41.72 30.96,38.80 31.97,38.00Z" fill="url(#gskin)"/><path d="M34.86,52.35 C34.98,51.57 37.29,51.52 38.12,51.99 C38.94,52.46 39.12,54.15 39.81,55.19 C40.49,56.22 41.37,57.77 42.22,58.20 C43.07,58.63 43.93,58.18 44.93,57.78 C45.94,57.38 47.20,56.29 48.25,55.79 C49.31,55.29 50.26,54.41 51.27,54.76 C52.27,55.12 53.56,56.57 54.28,57.90 C55.01,59.23 55.46,61.17 55.61,62.73 C55.76,64.28 55.91,66.93 55.19,67.25 C54.46,67.57 52.82,65.49 51.27,64.66 C49.71,63.82 47.55,63.02 45.84,62.24 C44.13,61.47 42.42,60.94 41.01,60.01 C39.61,59.09 38.42,57.97 37.39,56.69 C36.37,55.42 34.74,53.14 34.86,52.35Z" fill="url(#gpk2)"/><path d="M27.74,37.70 C26.99,36.59 27.54,33.93 28.35,31.36 C29.15,28.80 30.26,24.43 32.57,22.32 C34.88,20.21 38.60,19.15 42.22,18.70 C45.84,18.24 50.66,18.19 54.28,19.60 C57.90,21.01 60.92,24.48 63.93,27.14 C66.95,29.80 68.76,32.27 72.38,35.59 C76.00,38.90 83.13,43.93 85.65,47.04 C88.16,50.16 88.21,51.37 87.45,54.28 C86.70,57.20 83.38,63.78 81.12,64.54 C78.86,65.29 76.25,60.60 73.88,58.81 C71.52,57.02 69.11,55.64 66.95,53.80 C64.79,51.96 63.43,49.13 60.92,47.77 C58.40,46.41 54.53,46.51 51.87,45.66 C49.21,44.80 47.04,43.80 44.93,42.64 C42.82,41.49 41.21,39.50 39.20,38.72 C37.19,37.95 34.78,38.17 32.87,38.00 C30.96,37.83 28.50,38.80 27.74,37.70Z" fill="url(#gpk1)"/><path d="M34.98,57.00 C35.48,57.22 33.22,58.86 32.57,60.31 C31.92,61.77 31.16,63.93 31.06,65.74 C30.96,67.55 31.66,69.56 31.97,71.17 C32.27,72.78 33.37,74.27 32.87,75.39 C32.37,76.52 30.21,77.80 28.95,77.93 C27.69,78.05 26.49,77.09 25.33,76.12 C24.18,75.14 23.22,72.38 22.01,72.07 C20.81,71.77 20.26,74.96 18.09,74.31 C15.93,73.65 10.05,69.43 9.05,68.15 C8.04,66.88 10.25,67.50 12.06,66.65 C13.87,65.79 17.74,64.08 19.90,63.03 C22.06,61.97 23.42,60.99 25.03,60.31 C26.64,59.64 27.90,59.54 29.55,58.99 C31.21,58.43 34.48,56.78 34.98,57.00Z" fill="#ffeaec"/><polygon points="19.90,52.47 23.52,53.68 21.71,55.49 18.82,56.39" fill="#fff0f1"/><polygon points="37.09,64.54 38.90,68.15 36.79,71.77 35.89,68.15" fill="#fff0f1"/><polygon points="25.33,61.52 28.35,62.12 26.54,63.93" fill="#ffa9b0"/><polygon points="19.30,65.74 21.41,65.14 20.81,68.15" fill="#ffa9b0"/><polygon points="26.24,71.47 28.35,71.17 27.14,72.68" fill="#ffb4ba"/></g></g><circle r="27.099999999999998" fill="#000" fill-opacity="0.19"/></g>
<g transform="translate(555.80,1172.95)"><g transform="scale(0.6996) translate(-45.7,-48.85)"><circle cx="45.7" cy="48.85" r="38.45" fill="#ffa9b0"/><rect x="19.00" y="36.07" width="3.98" height="35.83" rx="1.2" fill="#ff6776"/><path d="M22.92,58.81 L41.62,58.81 L41.62,44.75 L65.44,44.75 Q72.98,44.75 72.98,52.47 L72.98,71.77 L66.10,71.77 L66.10,66.04 L22.92,66.04Z" fill="url(#gbed)"/><circle cx="28.35" cy="30.88" r="5.73" fill="url(#gwh)"/><path d="M25.03,43.43 Q25.03,38.90 29.55,38.90 Q34.08,38.90 34.26,44.33 L38.60,44.93 L38.60,56.09 L30.16,56.09 Q25.81,56.09 25.33,50.66Z" fill="url(#gwh)"/></g><circle r="27.099999999999998" fill="#000" fill-opacity="0.19"/></g>
</svg>
<div class="b" style="left:1609.90px;top:1566.20px;width:19.60px;height:19.60px;background:#c40045;border-radius:10px;"></div>
<div class="t" style="left:1647.66px;top:1564.94px;font-size:23.70px;color:#1a1a28;letter-spacing:0.513px;">Period</div>
<div class="b" style="left:1860.90px;top:1566.20px;width:19.60px;height:19.60px;background:#ab97d4;border-radius:10px;"></div>
<div class="t" style="left:1898.66px;top:1564.94px;font-size:23.70px;color:#1a1a28;letter-spacing:0.558px;">Fertile</div>
<div class="b" style="left:2111.90px;top:1566.20px;width:19.60px;height:19.60px;background:#5a31cc;border-radius:10px;"></div>
<div class="t" style="left:2149.88px;top:1564.94px;font-size:23.70px;color:#1a1a28;letter-spacing:0.442px;">Ovulation</div>
<div class="b" style="left:848.50px;top:1584.50px;width:608.00px;height:11.00px;background:#000;border-radius:5.5px;"></div>
<div id="modal">
<svg style="left:35.8px;top:43.1px" width="42" height="23" viewBox="0 0 42 23"><path d="M1.5 1.8 L21 20.5 L40.5 1.8" fill="none" stroke="#000" stroke-width="4" stroke-linecap="round" stroke-linejoin="miter"/></svg>
<div class="t" style="left:412.05px;top:37.67px;font-size:33.00px;color:#000;font-weight:700;letter-spacing:-0.284px;">Charts</div>
<div class="b" style="left:29.50px;top:108.10px;width:868.00px;height:436.00px;background:#fafafa;border-radius:0 0 28px 28px;"></div>
<div class="t" style="left:59.46px;top:121.08px;font-size:37.00px;color:#000;font-weight:700;letter-spacing:-0.416px;">Weight( kg)</div>
<div class="b" style="left:105.98px;top:196.10px;width:118.92px;height:292.40px;background:linear-gradient(180deg,rgba(255,224,226,0) 0%,rgba(255,224,226,0.1) 12.5%,rgba(255,224,226,0.36) 41.7%,rgba(255,224,226,0.68) 70.8%,#ffe0e2 100%);"></div>
<div class="b" style="left:502.38px;top:196.10px;width:138.74px;height:292.40px;background:linear-gradient(180deg,rgba(208,181,250,0) 5%,rgba(208,181,250,0.05) 12.5%,rgba(208,181,250,0.25) 41.7%,rgba(208,181,250,0.54) 70.8%,#d0b5fa 100%);"></div>
<div class="b" style="left:591.57px;top:196.10px;width:19.82px;height:292.40px;background:linear-gradient(180deg,rgba(106,58,255,0) 5%,rgba(106,58,255,0.08) 12.5%,rgba(106,58,255,0.36) 41.7%,rgba(106,58,255,0.68) 70.8%,#6a3aff 100%);"></div>
<div class="t" style="left:42.60px;top:223.21px;font-size:19.60px;color:#9a9aa0;letter-spacing:0.668px;">60.1</div>
<div class="t" style="left:42.82px;top:308.41px;font-size:19.60px;color:#9a9aa0;letter-spacing:0.471px;">59.4</div>
<div class="t" style="left:42.82px;top:393.41px;font-size:19.60px;color:#9a9aa0;letter-spacing:0.608px;">58.7</div>
<div class="t" style="left:42.82px;top:478.41px;font-size:19.60px;color:#9a9aa0;letter-spacing:0.534px;">58.0</div>
<div class="t" style="left:114.56px;top:501.31px;font-size:19.60px;color:#9a9aa0;">15</div>
<div class="t" style="left:154.29px;top:501.31px;font-size:19.60px;color:#9a9aa0;">17</div>
<div class="t" style="left:193.90px;top:501.31px;font-size:19.60px;color:#9a9aa0;">19</div>
<div class="t" style="left:233.80px;top:501.31px;font-size:19.60px;color:#9a9aa0;">21</div>
<div class="t" style="left:273.40px;top:501.31px;font-size:19.60px;color:#9a9aa0;">23</div>
<div class="t" style="left:313.02px;top:501.31px;font-size:19.60px;color:#9a9aa0;">25</div>
<div class="t" style="left:352.74px;top:501.31px;font-size:19.60px;color:#9a9aa0;">27</div>
<div class="t" style="left:392.35px;top:501.31px;font-size:19.60px;color:#9a9aa0;">29</div>
<div class="t" style="left:437.20px;top:501.31px;font-size:19.60px;color:#9a9aa0;">1</div>
<div class="t" style="left:477.17px;top:501.31px;font-size:19.60px;color:#9a9aa0;">3</div>
<div class="t" style="left:516.77px;top:501.31px;font-size:19.60px;color:#9a9aa0;">5</div>
<div class="t" style="left:556.38px;top:501.31px;font-size:19.60px;color:#9a9aa0;">7</div>
<div class="t" style="left:596.03px;top:501.31px;font-size:19.60px;color:#9a9aa0;">9</div>
<div class="t" style="left:630.68px;top:501.31px;font-size:19.60px;color:#9a9aa0;">11</div>
<div class="t" style="left:669.54px;top:501.31px;font-size:19.60px;color:#9a9aa0;">13</div>
<div class="t" style="left:709.16px;top:501.31px;font-size:19.60px;color:#9a9aa0;">15</div>
<div class="t" style="left:748.89px;top:501.31px;font-size:19.60px;color:#9a9aa0;">17</div>
<div class="t" style="left:788.50px;top:501.31px;font-size:19.60px;color:#9a9aa0;">19</div>
<div class="t" style="left:828.40px;top:501.31px;font-size:19.60px;color:#9a9aa0;">21</div>
<svg style="left:0;top:0" width="926" height="1397"><line x1="640.7" y1="247.6" x2="660.5" y2="363.6" stroke="#3cc8f4" stroke-width="3.4"/><circle cx="640.7" cy="247.6" r="5.6" fill="#fafafa" stroke="#3cc8f4" stroke-width="3.2"/><circle cx="660.5" cy="363.6" r="5.6" fill="#fafafa" stroke="#3cc8f4" stroke-width="3.2"/></svg>
<div class="b" style="left:29.50px;top:582.10px;width:868.00px;height:521.00px;background:#fafafa;border-radius:28px;"></div>
<div class="t" style="left:57.75px;top:615.00px;font-size:36.50px;color:#000;font-weight:700;letter-spacing:-0.650px;">Symptoms</div>
<div class="b" style="left:154.30px;top:719.80px;width:370.80px;height:19.80px;background:#f0055a;border-radius:10px;"></div>
<div class="t" style="left:535.29px;top:715.80px;font-size:28.00px;color:#f0055a;letter-spacing:0.750px;">x2</div>
<div class="t" style="left:583.75px;top:716.20px;font-size:28.00px;color:#000;letter-spacing:0.057px;-webkit-text-stroke:0.5px #000;">Nausea</div>
<div class="b" style="left:154.30px;top:816.50px;width:370.80px;height:19.80px;background:#f0055a;border-radius:10px;"></div>
<div class="t" style="left:535.29px;top:812.50px;font-size:28.00px;color:#f0055a;letter-spacing:0.750px;">x2</div>
<div class="t" style="left:583.75px;top:812.90px;font-size:28.00px;color:#000;letter-spacing:0.762px;-webkit-text-stroke:0.5px #000;">Flatulence</div>
<div class="b" style="left:154.30px;top:913.20px;width:370.80px;height:19.80px;background:#f0055a;border-radius:10px;"></div>
<div class="t" style="left:535.29px;top:909.20px;font-size:28.00px;color:#f0055a;letter-spacing:0.750px;">x2</div>
<div class="t" style="left:584.78px;top:909.60px;font-size:28.00px;color:#000;letter-spacing:0.372px;-webkit-text-stroke:0.5px #000;">Sleepless</div>
<div class="b" style="left:29.50px;top:1141.90px;width:868.00px;height:400.00px;background:#fafafa;border-radius:28px;"></div>
<div class="t" style="left:56.36px;top:1174.70px;font-size:36.50px;color:#000;font-weight:700;letter-spacing:-0.691px;">Events</div>
<div class="b" style="left:154.30px;top:1280.30px;width:370.80px;height:19.80px;background:#f0055a;border-radius:10px;"></div>
<div class="t" style="left:535.29px;top:1276.30px;font-size:28.00px;color:#f0055a;letter-spacing:0.750px;">x2</div>
<div class="t" style="left:583.75px;top:1276.70px;font-size:28.00px;color:#000;letter-spacing:0.290px;-webkit-text-stroke:0.5px #000;">Do Exercise</div>
<div class="b" style="left:154.30px;top:1377.00px;width:185.40px;height:19.80px;background:#f0055a;border-radius:10px;"></div>
<div class="t" style="left:349.93px;top:1373.00px;font-size:28.00px;color:#f0055a;letter-spacing:0.580px;transform:scaleX(0.85);transform-origin:0 0;">x1</div>
<div class="t" style="left:394.75px;top:1373.40px;font-size:28.00px;color:#000;letter-spacing:0.328px;-webkit-text-stroke:0.5px #000;">Have Cold Food</div>
<svg style="left:0;top:0" width="927" height="1398">
<g transform="translate(50.80,681.10)"><clipPath id="cpb1"><circle cx="45.7" cy="48.55" r="38.45"/></clipPath><circle cx="45.7" cy="48.55" r="38.45" fill="#ffa9b0"/><g clip-path="url(#cpb1)"><path d="M31.97,38.00 C32.97,37.19 37.04,37.85 39.20,38.60 C41.37,39.35 42.82,41.37 44.93,42.52 C47.04,43.68 49.21,44.68 51.87,45.54 C54.53,46.39 58.40,46.29 60.92,47.65 C63.43,49.00 64.79,51.87 66.95,53.68 C69.11,55.49 71.52,56.80 73.88,58.50 C76.25,60.21 79.16,62.12 81.12,63.93 C83.08,65.74 86.10,64.94 85.65,69.36 C85.19,73.78 84.04,86.95 78.41,90.47 C72.78,93.99 56.19,92.48 51.87,90.47 C47.55,88.46 52.07,82.23 52.47,78.41 C52.87,74.59 53.83,70.37 54.28,67.55 C54.73,64.74 55.59,63.48 55.19,61.52 C54.78,59.56 53.13,56.64 51.87,55.79 C50.61,54.94 49.11,55.92 47.65,56.39 C46.19,56.87 44.43,58.68 43.12,58.62 C41.82,58.57 40.71,57.12 39.81,56.09 C38.90,55.07 38.55,53.10 37.70,52.47 C36.84,51.85 35.28,53.06 34.68,52.35 C34.08,51.65 34.33,49.74 34.08,48.25 C33.83,46.76 33.52,45.13 33.17,43.43 C32.82,41.72 30.96,38.80 31.97,38.00Z" fill="url(#gskin)"/><path d="M34.86,52.35 C34.98,51.57 37.29,51.52 38.12,51.99 C38.94,52.46 39.12,54.15 39.81,55.19 C40.49,56.22 41.37,57.77 42.22,58.20 C43.07,58.63 43.93,58.18 44.93,57.78 C45.94,57.38 47.20,56.29 48.25,55.79 C49.31,55.29 50.26,54.41 51.27,54.76 C52.27,55.12 53.56,56.57 54.28,57.90 C55.01,59.23 55.46,61.17 55.61,62.73 C55.76,64.28 55.91,66.93 55.19,67.25 C54.46,67.57 52.82,65.49 51.27,64.66 C49.71,63.82 47.55,63.02 45.84,62.24 C44.13,61.47 42.42,60.94 41.01,60.01 C39.61,59.09 38.42,57.97 37.39,56.69 C36.37,55.42 34.74,53.14 34.86,52.35Z" fill="url(#gpk2)"/><path d="M27.74,37.70 C26.99,36.59 27.54,33.93 28.35,31.36 C29.15,28.80 30.26,24.43 32.57,22.32 C34.88,20.21 38.60,19.15 42.22,18.70 C45.84,18.24 50.66,18.19 54.28,19.60 C57.90,21.01 60.92,24.48 63.93,27.14 C66.95,29.80 68.76,32.27 72.38,35.59 C76.00,38.90 83.13,43.93 85.65,47.04 C88.16,50.16 88.21,51.37 87.45,54.28 C86.70,57.20 83.38,63.78 81.12,64.54 C78.86,65.29 76.25,60.60 73.88,58.81 C71.52,57.02 69.11,55.64 66.95,53.80 C64.79,51.96 63.43,49.13 60.92,47.77 C58.40,46.41 54.53,46.51 51.87,45.66 C49.21,44.80 47.04,43.80 44.93,42.64 C42.82,41.49 41.21,39.50 39.20,38.72 C37.19,37.95 34.78,38.17 32.87,38.00 C30.96,37.83 28.50,38.80 27.74,37.70Z" fill="url(#gpk1)"/><path d="M34.98,57.00 C35.48,57.22 33.22,58.86 32.57,60.31 C31.92,61.77 31.16,63.93 31.06,65.74 C30.96,67.55 31.66,69.56 31.97,71.17 C32.27,72.78 33.37,74.27 32.87,75.39 C32.37,76.52 30.21,77.80 28.95,77.93 C27.69,78.05 26.49,77.09 25.33,76.12 C24.18,75.14 23.22,72.38 22.01,72.07 C20.81,71.77 20.26,74.96 18.09,74.31 C15.93,73.65 10.05,69.43 9.05,68.15 C8.04,66.88 10.25,67.50 12.06,66.65 C13.87,65.79 17.74,64.08 19.90,63.03 C22.06,61.97 23.42,60.99 25.03,60.31 C26.64,59.64 27.90,59.54 29.55,58.99 C31.21,58.43 34.48,56.78 34.98,57.00Z" fill="#ffeaec"/><polygon points="19.90,52.47 23.52,53.68 21.71,55.49 18.82,56.39" fill="#fff0f1"/><polygon points="37.09,64.54 38.90,68.15 36.79,71.77 35.89,68.15" fill="#fff0f1"/><polygon points="25.33,61.52 28.35,62.12 26.54,63.93" fill="#ffa9b0"/><polygon points="19.30,65.74 21.41,65.14 20.81,68.15" fill="#ffa9b0"/><polygon points="26.24,71.47 28.35,71.17 27.14,72.68" fill="#ffb4ba"/></g></g>
<g transform="translate(50.80,778.10)"><clipPath id="cpb2"><circle cx="45.7" cy="48.4" r="38.45"/></clipPath><circle cx="45.7" cy="48.4" r="38.45" fill="#ffa9b0"/><g clip-path="url(#cpb2)"><path d="M35.59,7.24 C36.46,5.43 39.81,5.43 40.53,7.24 C41.25,9.05 39.80,15.43 39.93,18.09 C40.06,20.76 40.58,21.59 41.31,23.22 C42.05,24.85 43.58,26.91 44.33,27.86 C45.08,28.82 44.88,29.17 45.84,28.95 C46.79,28.73 48.35,27.09 50.06,26.54 C51.77,25.99 54.08,25.51 56.09,25.63 C58.10,25.75 60.31,26.21 62.12,27.26 C63.93,28.32 65.64,29.98 66.95,31.97 C68.25,33.96 69.20,36.69 69.96,39.20 C70.73,41.72 71.37,44.43 71.53,47.04 C71.69,49.66 71.49,52.57 70.93,54.89 C70.37,57.20 69.47,59.06 68.15,60.92 C66.84,62.78 64.89,64.64 63.03,66.04 C61.17,67.45 59.01,68.55 57.00,69.36 C54.99,70.17 53.13,70.83 50.97,70.93 C48.80,71.03 46.19,70.43 44.03,69.96 C41.87,69.50 39.86,68.71 38.00,68.15 C36.14,67.60 34.53,66.90 32.87,66.65 C31.21,66.40 29.35,66.32 28.05,66.65 C26.74,66.97 25.68,67.72 25.03,68.58 C24.38,69.43 24.10,69.13 24.13,71.77 C24.16,74.42 26.32,83.33 25.21,84.44 C24.11,85.54 18.65,81.12 17.49,78.41 C16.33,75.69 17.67,70.72 18.28,68.15 C18.88,65.59 19.83,64.28 21.11,63.03 C22.39,61.77 23.97,61.27 25.93,60.62 C27.90,59.96 30.86,59.56 32.87,59.11 C34.88,58.66 36.64,58.60 38.00,57.90 C39.35,57.20 40.35,56.39 41.01,54.89 C41.68,53.38 41.88,50.81 41.98,48.85 C42.08,46.89 41.78,44.93 41.62,43.12 C41.46,41.31 40.94,39.56 41.01,38.00 C41.08,36.44 42.44,35.08 42.04,33.78 C41.64,32.47 39.58,31.77 38.60,30.16 C37.63,28.55 36.74,26.14 36.19,24.13 C35.64,22.11 35.38,20.91 35.28,18.09 C35.18,15.28 34.71,9.05 35.59,7.24Z" fill="url(#gpk1)"/><path d="M45.72,46.08 C46.44,45.68 47.75,46.28 48.97,46.56 C50.20,46.84 51.59,47.71 53.08,47.77 C54.56,47.83 56.24,47.25 57.90,46.92 C59.56,46.60 61.64,45.84 63.03,45.84 C64.41,45.84 65.55,45.92 66.22,46.92 C66.90,47.93 67.25,50.04 67.07,51.87 C66.89,53.70 66.16,56.04 65.14,57.90 C64.11,59.76 62.42,61.67 60.92,63.03 C59.41,64.38 57.90,65.49 56.09,66.04 C54.28,66.60 51.92,66.60 50.06,66.34 C48.20,66.09 46.19,65.54 44.93,64.54 C43.68,63.53 42.89,61.62 42.52,60.31 C42.15,59.01 42.43,57.90 42.70,56.69 C42.97,55.49 43.83,54.36 44.15,53.08 C44.47,51.79 44.37,50.14 44.63,48.97 C44.89,47.81 44.99,46.48 45.72,46.08Z" fill="url(#gwh)"/></g></g>
<g transform="translate(50.80,874.10)"><circle cx="45.7" cy="48.85" r="38.45" fill="#ffa9b0"/><rect x="19.00" y="36.07" width="3.98" height="35.83" rx="1.2" fill="#ff6776"/><path d="M22.92,58.81 L41.62,58.81 L41.62,44.75 L65.44,44.75 Q72.98,44.75 72.98,52.47 L72.98,71.77 L66.10,71.77 L66.10,66.04 L22.92,66.04Z" fill="url(#gbed)"/><circle cx="28.35" cy="30.88" r="5.73" fill="url(#gwh)"/><path d="M25.03,43.43 Q25.03,38.90 29.55,38.90 Q34.08,38.90 34.26,44.33 L38.60,44.93 L38.60,56.09 L30.16,56.09 Q25.81,56.09 25.33,50.66Z" fill="url(#gwh)"/></g>
<g transform="translate(50.80,1241.10)"><circle cx="45.7" cy="48.55" r="38.6" fill="#4a90e2"/><rect x="21.71" y="39.51" width="4.64" height="19.90" rx="2.3" fill="#f6f6f6"/><rect x="65.62" y="39.51" width="4.64" height="19.90" rx="2.3" fill="#f6f6f6"/><rect x="29.37" y="30.76" width="8.62" height="36.49" rx="2.6" fill="#f6f6f6"/><rect x="53.86" y="30.76" width="8.38" height="36.49" rx="2.6" fill="#f6f6f6"/><rect x="37.39" y="47.65" width="17.19" height="3.98" fill="#f6f6f6"/></g>
<g transform="translate(50.80,1338.10)"><circle cx="45.75" cy="48.05" r="38.55" fill="#43a0ae"/><polygon points="33.23,46.56 58.32,46.56 47.92,74.14 43.40,74.14" fill="url(#gcone)"/><path d="M30.20,42.04 C28.93,31.65 37.07,23.87 45.66,23.87 C54.25,23.87 62.39,31.65 61.12,42.04 C63.29,42.95 63.29,46.84 60.58,46.84 L30.74,46.84 C28.03,46.84 28.03,42.95 30.20,42.04Z" fill="url(#gice)"/></g>
<clipPath id="co1"><circle cx="96.70" cy="1029.30" r="36.7"/></clipPath><circle cx="96.70" cy="1029.30" r="38.6" fill="#fff"/><circle cx="96.70" cy="1029.30" r="36.7" fill="#ffa9b0"/><g clip-path="url(#co1)"><path d="M58.39,1048.19 C60.82,1045.34 67.04,1055.36 71.69,1055.78 C76.33,1056.21 81.29,1051.99 86.24,1050.72 C91.20,1049.45 95.74,1049.24 101.43,1048.19 C107.13,1047.13 117.26,1040.28 120.42,1044.39 C123.58,1048.51 130.97,1068.13 120.42,1072.87 C109.87,1077.62 67.47,1076.99 57.13,1072.87 C46.79,1068.76 55.97,1051.04 58.39,1048.19Z" fill="#ffe7ea"/><path d="M78.02,999.45 C78.65,1001.25 83.39,1004.52 86.24,1006.42 C89.09,1008.32 92.68,1009.79 95.10,1010.85 C97.53,1011.90 98.69,1014.22 100.80,1012.75 C102.91,1011.27 107.87,1004.73 107.76,1001.99 C107.66,999.24 103.12,997.71 100.17,996.29 C97.21,994.87 92.99,993.55 90.04,993.44 C87.09,993.34 84.45,994.65 82.45,995.66 C80.44,996.66 77.38,997.66 78.02,999.45Z" fill="#ff8a96"/><ellipse cx="92.57" cy="1029.20" rx="11.71" ry="18.48" fill="#fff3f4"/><path d="M78.33,1013.69 C79.07,1013.27 80.22,1016.07 80.67,1019.07 C81.13,1022.08 80.12,1027.51 81.05,1031.73 C81.98,1035.95 85.25,1041.44 86.24,1044.39 C87.23,1047.34 87.21,1048.29 87.00,1049.45 C86.79,1050.61 87.53,1050.40 84.98,1051.35 C82.42,1052.30 72.95,1056.31 71.69,1055.15 C70.42,1053.99 76.62,1047.77 77.38,1044.39 C78.14,1041.02 76.60,1037.85 76.24,1034.90 C75.88,1031.94 75.23,1028.88 75.23,1026.67 C75.23,1024.45 75.73,1023.77 76.24,1021.61 C76.76,1019.44 77.59,1014.12 78.33,1013.69Z" fill="url(#gpk2)"/><path d="M78.14,1013.69 C78.69,1013.91 76.73,1019.44 76.24,1021.61 C75.76,1023.77 75.23,1024.45 75.23,1026.67 C75.23,1028.88 75.97,1032.37 76.24,1034.90 C76.52,1037.43 77.85,1038.54 76.88,1041.86 C75.91,1045.18 72.66,1054.20 70.42,1054.83 C68.18,1055.47 63.44,1048.45 63.46,1045.66 C63.48,1042.86 69.49,1041.02 70.55,1038.06 C71.60,1035.11 69.39,1030.89 69.79,1027.94 C70.19,1024.98 71.56,1022.71 72.95,1020.34 C74.34,1017.97 77.59,1013.48 78.14,1013.69Z" fill="#ffe3e6"/><path d="M77.38,1000.09 C79.28,1001.46 84.77,1006.42 88.77,1008.32 C92.78,1010.21 99.32,1010.95 101.43,1011.48" stroke="#fff" stroke-opacity="0.85" stroke-width="1.6" fill="none"/><path d="M71.69,1006.42 C73.69,1006.84 79.18,1007.89 83.71,1008.95 C88.25,1010.00 96.37,1012.11 98.90,1012.75" stroke="#fff" stroke-opacity="0.6" stroke-width="1.3" fill="none"/><polygon points="90.04,993.76 97.64,992.81 96.69,996.92 100.80,995.97 96.05,1001.99 97.00,997.87 92.89,998.19" fill="#ff5064"/><polygon points="69.79,1002.94 74.22,1001.99 72.95,1005.15 65.99,1009.58 72.00,1010.21 71.69,1009.26" fill="#ff6a78" fill-opacity="0.8"/></g>
<circle cx="135.40" cy="1029.30" r="38.6" fill="#fff"/><circle cx="135.40" cy="1029.30" r="36.7" fill="#ffa9b0"/><rect x="126.98" y="1005.66" width="12.2" height="34" rx="6.1" fill="url(#gthermo)"/><circle cx="133.08" cy="1040.59" r="12.4" fill="#ffe4e7"/><rect x="130.03" y="1014.83" width="6.1" height="26" rx="3.05" fill="url(#gtherm)"/><circle cx="133.08" cy="1040.59" r="7.7" fill="url(#gtherm)"/>
<clipPath id="co3"><circle cx="174.10" cy="1029.30" r="36.7"/></clipPath><clipPath id="co3b"><circle cx="174.10" cy="1029.30" r="37.9"/></clipPath><circle cx="174.10" cy="1029.30" r="38.6" fill="#fff"/><circle cx="174.10" cy="1029.30" r="36.7" fill="#ffa9b0"/><g clip-path="url(#co3b)"><path d="M162.83,993.76 C158.61,995.34 154.91,997.66 152.07,1000.09 C149.22,1002.51 146.48,1005.57 145.74,1008.32 C145.00,1011.06 146.79,1013.69 147.64,1016.54 C148.48,1019.39 149.85,1021.82 150.80,1025.40 C151.75,1028.99 152.70,1033.84 153.33,1038.06 C153.96,1042.28 154.18,1046.50 154.60,1050.72 C155.02,1054.94 148.90,1060.21 155.86,1063.38 C162.83,1066.54 186.45,1074.98 196.37,1069.71 C206.29,1064.43 215.36,1044.92 215.36,1031.73 C215.36,1018.55 202.70,997.45 196.37,990.59 C190.04,983.74 182.97,990.07 177.38,990.59 C171.79,991.12 167.04,992.18 162.83,993.76Z" fill="#ffffff"/></g><g clip-path="url(#co3)"><polygon points="148.58,1020.34 174.22,1022.11 174.22,1033.13 152.07,1031.73" fill="url(#gband)"/><polygon points="142.89,1036.48 149.66,1035.85 158.39,1045.66 153.46,1046.29 157.89,1056.29 144.47,1045.34 149.53,1044.39" fill="#ff4e60"/><polygon points="154.60,997.56 162.83,994.07 161.56,997.56 154.60,1000.09" fill="#ff9aa4"/></g>
<clipPath id="co4"><circle cx="212.80" cy="1029.30" r="36.7"/></clipPath><circle cx="212.80" cy="1029.30" r="38.6" fill="#fff"/><circle cx="212.80" cy="1029.30" r="36.7" fill="#ffeef0"/><g clip-path="url(#co4)"><path d="M186.03,1026.67 C187.65,1024.77 188.17,1031.01 189.28,1033.18 C190.39,1035.35 191.99,1037.52 192.70,1039.69 C193.40,1041.86 193.78,1042.94 193.51,1046.20 C193.24,1049.45 193.81,1057.86 191.07,1059.22 C188.33,1060.57 179.00,1056.78 177.07,1054.34 C175.15,1051.90 178.02,1049.18 179.52,1044.57 C181.01,1039.96 184.40,1028.57 186.03,1026.67Z" fill="#ffa9b0"/><path d="M192.37,996.97 C193.08,995.14 194.30,995.14 195.14,996.97 C195.98,998.80 195.82,1004.90 197.42,1007.95 C199.02,1011.00 202.03,1013.51 204.74,1015.28 C207.45,1017.04 210.17,1017.85 213.69,1018.53 C217.22,1019.21 221.15,1016.09 225.90,1019.35 C230.65,1022.60 240.82,1029.52 242.17,1038.06 C243.53,1046.61 242.55,1065.19 234.04,1070.61 C225.52,1076.04 197.82,1074.68 191.07,1070.61 C184.32,1066.54 193.27,1051.35 193.51,1046.20 C193.76,1041.05 193.24,1041.86 192.54,1039.69 C191.83,1037.52 190.37,1035.35 189.28,1033.18 C188.20,1031.01 186.43,1028.97 186.03,1026.67 C185.62,1024.36 186.03,1022.46 186.84,1019.35 C187.65,1016.23 189.99,1011.68 190.91,1007.95 C191.83,1004.22 191.67,998.80 192.37,996.97Z" fill="url(#gtank)"/><path d="M189.28,1033.18 C190.23,1033.99 192.94,1037.09 194.98,1038.06 C197.01,1039.04 199.32,1039.17 201.49,1039.04 C203.66,1038.90 206.10,1038.22 208.00,1037.25 C209.90,1036.27 212.07,1033.86 212.88,1033.18" stroke="#ff3d52" stroke-width="1.6" fill="none" stroke-opacity="0.8"/><polygon points="177.48,992.90 187.65,996.15 188.87,998.60 179.11,996.15" fill="#ffa2ac"/></g>
<clipPath id="co5"><circle cx="251.50" cy="1029.30" r="36.7"/></clipPath><circle cx="251.50" cy="1029.30" r="38.6" fill="#fff"/><circle cx="251.50" cy="1029.30" r="36.7" fill="#ffa9b0"/><g clip-path="url(#co5)"><circle cx="246.24" cy="1002.42" r="5.9" fill="#fff"/><circle cx="248.84" cy="996.82" r="3" fill="#fff"/><path d="M244.61,1007.95 C245.29,1006.66 248.95,1006.73 250.31,1008.36 C251.67,1009.99 252.21,1014.67 252.75,1017.72 C253.29,1020.77 252.62,1023.28 253.57,1026.67 C254.52,1030.06 259.80,1036.30 258.45,1038.06 C257.09,1039.82 249.09,1038.26 245.43,1037.25 C241.77,1036.23 236.75,1033.99 236.48,1031.96 C236.21,1029.92 242.17,1027.69 243.80,1025.04 C245.43,1022.40 246.11,1018.94 246.24,1016.09 C246.38,1013.24 243.94,1009.24 244.61,1007.95Z" fill="#fff"/><path d="M247.06,1009.58 C246.11,1010.53 243.06,1013.51 241.36,1015.28 C239.66,1017.04 236.75,1019.07 236.88,1020.16 C237.02,1021.24 240.07,1022.33 242.17,1021.79 C244.28,1021.24 248.28,1017.72 249.50,1016.90" stroke="#fff" stroke-width="2.6" fill="none" stroke-linecap="round"/><path d="M249.50,1008.77 C250.45,1007.95 253.29,1005.17 255.19,1003.88 C257.09,1002.60 259.94,1001.51 260.89,1001.04" stroke="#fff" stroke-width="2.6" fill="none" stroke-linecap="round"/><polygon points="244.61,1036.43 250.31,1037.25 247.71,1065.73 244.21,1065.73" fill="#fff"/><polygon points="251.12,1037.25 255.19,1038.06 259.67,1065.73 256.41,1065.73" fill="#fff"/><polygon points="218.98,1031.14 224.03,1030.74 232.16,1039.69 227.28,1040.91 230.94,1049.62 219.39,1038.47 223.62,1037.65" fill="#ff5064"/></g>
<circle cx="290.20" cy="1029.30" r="38.6" fill="#fff"/><circle cx="290.20" cy="1029.30" r="36.7" fill="#fff1f2"/><circle cx="273.60" cy="1029.10" r="5.5" fill="#ff6474"/><circle cx="290.20" cy="1029.10" r="5.5" fill="#ff6474"/><circle cx="306.80" cy="1029.10" r="5.5" fill="#ff6474"/>
</svg>
</div>
</div>
</body></html>
